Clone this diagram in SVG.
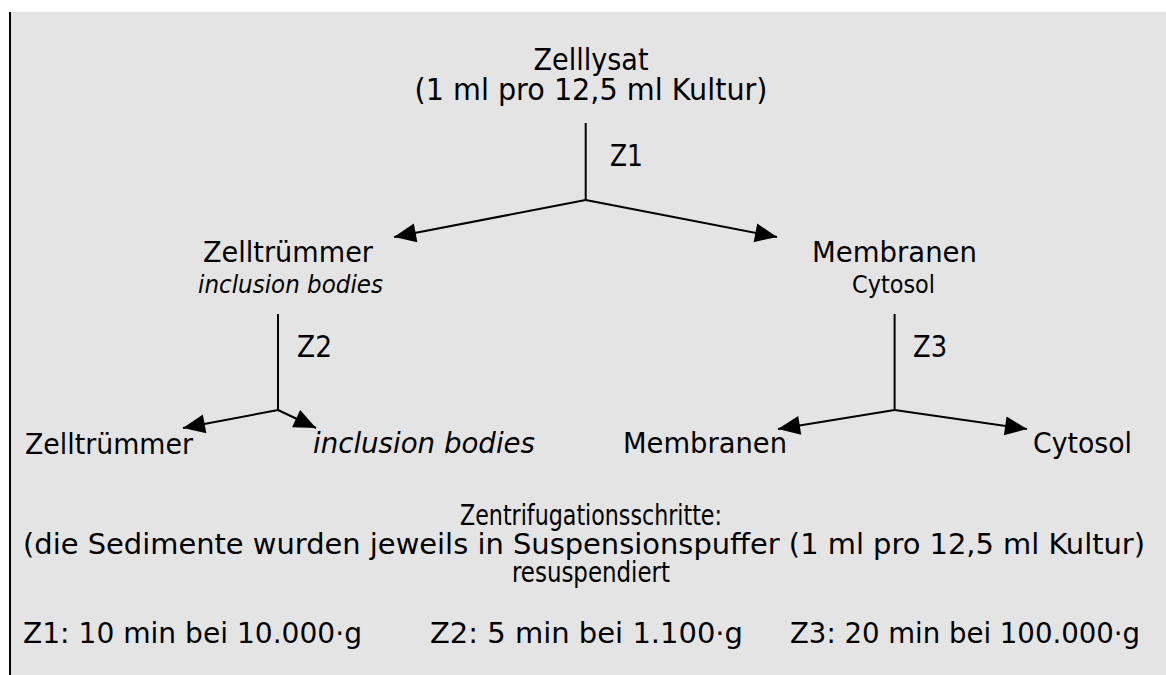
<svg xmlns="http://www.w3.org/2000/svg" width="1166" height="675" viewBox="0 0 1166 675">
<style>
text{font-family:"DejaVu Sans","Verdana",sans-serif;fill:#000;}
.big{font-size:30px;}
.mid{font-size:28px;}
.sm{font-size:24px;}
.nt{font-size:29px;font-stretch:condensed;}
.it{font-style:italic;}
.ln{stroke:#000;stroke-width:2;fill:none;}
.ar{stroke:#000;stroke-width:2;fill:none;marker-end:url(#ah);}
</style>
<defs>
<marker id="ah" markerUnits="userSpaceOnUse" markerWidth="26" markerHeight="24" viewBox="-24 -11 26 22" refX="0" refY="0" orient="auto">
<path d="M0,0 L-22,-9.5 L-22,9.5 Z" fill="#000"/>
</marker>
</defs>
<rect x="11" y="12" width="1155" height="663" fill="#e4e4e4"/>
<line x1="10" y1="12" x2="10" y2="675" stroke="#000" stroke-width="2"/>
<g id="connectors">
<path class="ln" d="M585.7,123 V200"/>
<path class="ar" d="M585.7,200 L394,237"/>
<path class="ar" d="M585.7,200 L777,237"/>
<path class="ln" d="M278,314 V410"/>
<path class="ar" d="M278,410 L183,428"/>
<path class="ar" d="M278,410 L316,428"/>
<path class="ln" d="M894.6,314 V410"/>
<path class="ar" d="M894.6,410 L778,429"/>
<path class="ar" d="M894.6,410 L1027,429"/>
</g>
<g id="n-lysat">
<text class="big" x="591" y="70" text-anchor="middle" textLength="115" lengthAdjust="spacingAndGlyphs">Zelllysat</text>
<text class="big" x="591" y="100" text-anchor="middle" textLength="353" lengthAdjust="spacingAndGlyphs">(1 ml pro 12,5 ml Kultur)</text>
</g>
<g id="l-z1"><text class="big" x="610" y="166" textLength="33" lengthAdjust="spacingAndGlyphs">Z1</text></g>
<g id="n-truemmer">
<text class="mid" x="203" y="262" textLength="170" lengthAdjust="spacingAndGlyphs">Zelltrümmer</text>
<text class="sm it" x="198" y="293" textLength="185" lengthAdjust="spacingAndGlyphs">inclusion bodies</text>
</g>
<g id="n-membranen">
<text class="mid" x="812" y="262" textLength="165" lengthAdjust="spacingAndGlyphs">Membranen</text>
<text class="sm" x="852" y="293" textLength="83" lengthAdjust="spacingAndGlyphs">Cytosol</text>
</g>
<g id="l-z2"><text class="big" x="297" y="357" textLength="35" lengthAdjust="spacingAndGlyphs">Z2</text></g>
<g id="l-z3"><text class="big" x="913" y="357" textLength="34" lengthAdjust="spacingAndGlyphs">Z3</text></g>
<g id="n-truemmer2"><text class="mid" x="25" y="454" textLength="168" lengthAdjust="spacingAndGlyphs">Zelltrümmer</text></g>
<g id="n-ib"><text class="mid it" x="313" y="453" textLength="222" lengthAdjust="spacingAndGlyphs">inclusion bodies</text></g>
<g id="n-membranen2"><text class="mid" x="623" y="453" textLength="164" lengthAdjust="spacingAndGlyphs">Membranen</text></g>
<g id="n-cytosol2"><text class="mid" x="1033" y="453" textLength="99" lengthAdjust="spacingAndGlyphs">Cytosol</text></g>
<g id="notes">
<text class="nt" x="591" y="525" text-anchor="middle" textLength="262" lengthAdjust="spacingAndGlyphs">Zentrifugationsschritte:</text>
<text class="nt" x="584" y="554" text-anchor="middle" textLength="1122" lengthAdjust="spacingAndGlyphs">(die Sedimente wurden jeweils in Suspensionspuffer (1 ml pro 12,5 ml Kultur)</text>
<text class="nt" x="591" y="582" text-anchor="middle" textLength="158" lengthAdjust="spacingAndGlyphs">resuspendiert</text>
<text class="nt" x="23" y="643" textLength="339" lengthAdjust="spacingAndGlyphs">Z1: 10 min bei 10.000·g</text>
<text class="nt" x="430" y="643" textLength="313" lengthAdjust="spacingAndGlyphs">Z2: 5 min bei 1.100·g</text>
<text class="nt" x="790" y="643" textLength="350" lengthAdjust="spacingAndGlyphs">Z3: 20 min bei 100.000·g</text>
</g>
</svg>
